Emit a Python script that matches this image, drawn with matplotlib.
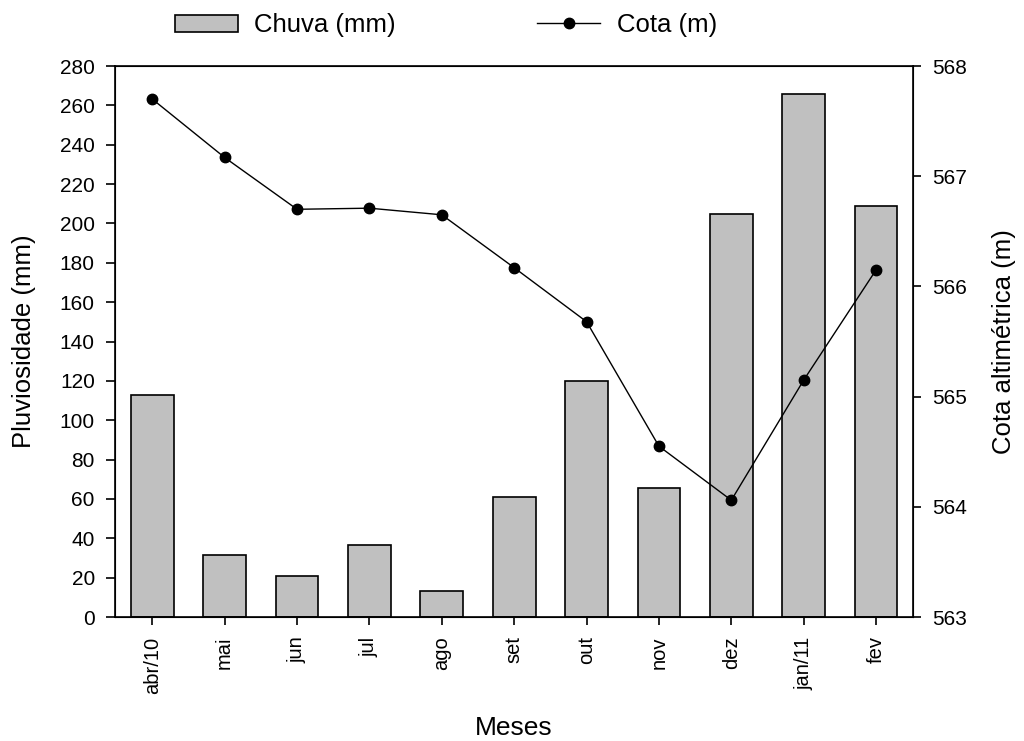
import matplotlib
matplotlib.use("Agg")
import matplotlib.pyplot as plt
import numpy as np

plt.rcParams['font.family'] = ['Liberation Sans', 'DejaVu Sans']

# dados
meses = ['abr/10', 'mai', 'jun', 'jul', 'ago', 'set', 'out', 'nov', 'dez', 'jan/11', 'fev']
chuva = [113, 31.5, 20.7, 36.4, 13.4, 60.8, 120, 65.5, 205, 266, 209]
cota = [567.70, 567.17, 566.70, 566.71, 566.65, 566.17, 565.68, 564.55, 564.06, 565.15, 566.15]

x = np.arange(len(meses))

fig = plt.figure(figsize=(10.24, 7.41), dpi=100)
ax = fig.add_axes([0.1123, 0.1673, 0.7793, 0.7436])

# barras de chuva
barras = ax.bar(x, chuva, width=0.59, color='#c0c0c0', edgecolor='black',
                linewidth=1.2, label='Chuva (mm)', zorder=2)
ax.set_xlim(-0.515, 10.51)
ax.set_ylim(0, 280)
ax.set_yticks(np.arange(0, 281, 20))
ax.set_xticks(x)
ax.set_xticklabels(meses, rotation=90, fontsize=14.5)
ax.tick_params(axis='y', labelsize=15, direction='out', length=6.5, width=1.2, pad=8)
ax.tick_params(axis='x', direction='out', length=6, width=1.2, pad=8)
ax.set_ylabel('Pluviosidade (mm)', fontsize=18.5, labelpad=17)
ax.set_xlabel('Meses', fontsize=19, labelpad=16)
for s in ax.spines.values():
    s.set_linewidth(1.2)

# cota no eixo secundario
ax2 = ax.twinx()
linha, = ax2.plot(x, cota, color='black', linewidth=1, marker='o',
                  markersize=7.5, label='Cota (m)', zorder=3)
ax2.set_ylim(563, 568)
ax2.set_yticks(np.arange(563, 569, 1))
ax2.tick_params(axis='y', labelsize=15, direction='out', length=6, width=1.2, pad=8)
ax2.set_ylabel('Cota altimétrica (m)', fontsize=18.5, labelpad=18)

fig.legend([barras, linha], ['Chuva (mm)', 'Cota (m)'], loc='center',
           bbox_to_anchor=(0.4355, 0.966), ncol=2, frameon=False, fontsize=18.5,
           handlelength=2.45, handleheight=0.64, handletextpad=0.64,
           columnspacing=5.5)

fig.savefig('out.png', dpi=100)
